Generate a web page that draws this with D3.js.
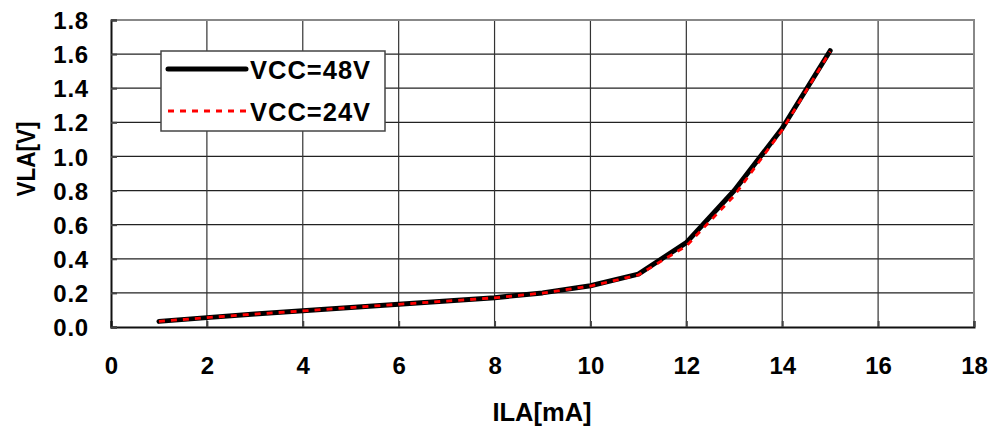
<!DOCTYPE html>
<html><head><meta charset="utf-8">
<script src="https://cdn.jsdelivr.net/npm/d3@7"></script>
<style>html,body{margin:0;padding:0;background:#fff;}text{font-family:"Liberation Sans",Arial,sans-serif;font-weight:bold;}</style>
</head><body>
<svg id="c" width="996" height="428"></svg>
<script>
const ila = [1,2,3,4,5,6,7,8,9,10,11,12,13,14,15];
const vcc48 = [0.033,0.055,0.076,0.095,0.115,0.134,0.153,0.172,0.200,0.242,0.310,0.495,0.800,1.165,1.620];
const vcc24 = [0.033,0.055,0.076,0.094,0.114,0.133,0.152,0.171,0.199,0.240,0.305,0.475,0.770,1.155,1.615];
const xTicks = [0,2,4,6,8,10,12,14,16,18];
const yTicks = [0,0.2,0.4,0.6,0.8,1.0,1.2,1.4,1.6,1.8];
const seriesNames = ["VCC=48V","VCC=24V"];

const svg = d3.select("#c");
const L=111,R=974,T=20,B=327;
const x = d3.scaleLinear().domain([0,18]).range([L,R]);
const y = d3.scaleLinear().domain([0,1.8]).range([B,T]);

// grid
svg.append("g").selectAll("line").data(yTicks.slice(1)).join("line")
  .attr("x1",L).attr("x2",R).attr("y1",d=>y(d)).attr("y2",d=>y(d))
  .attr("stroke","#222").attr("stroke-width",1.2);
svg.append("g").selectAll("line").data(xTicks.slice(1)).join("line")
  .attr("y1",T).attr("y2",B).attr("x1",d=>x(d)).attr("x2",d=>x(d))
  .attr("stroke","#333").attr("stroke-width",1.2);
// top & right border gray
svg.append("path").attr("d",`M${L},${T}H${R}V${B}`).attr("fill","none").attr("stroke","#888").attr("stroke-width",2);

// axes
const xAxis = svg.append("g").attr("transform",`translate(0,${B})`)
  .call(d3.axisBottom(x).tickValues(xTicks).tickSize(-6).tickPadding(30).tickFormat(d3.format("d")));
const yAxis = svg.append("g").attr("transform",`translate(${L},0)`)
  .call(d3.axisLeft(y).tickValues(yTicks).tickSize(-6).tickPadding(22).tickFormat(d3.format(".1f")));
[xAxis,yAxis].forEach(a=>{
  a.select(".domain").attr("stroke","#111").attr("stroke-width",2);
  a.selectAll(".tick line").attr("stroke","#444").attr("stroke-width",2);
  a.selectAll("text").attr("fill","#000").attr("font-size",24).attr("font-family","Liberation Sans, Arial, sans-serif").attr("font-weight","bold");
});
yAxis.selectAll("text").attr("dy","0.36em").attr("letter-spacing",0.8);

// lines
const line = d3.line().x((d,i)=>x(ila[i])).y(d=>y(d));
svg.append("path").datum(vcc48).attr("d",line).attr("fill","none")
  .attr("stroke","#000").attr("stroke-width",5).attr("stroke-linejoin","round").attr("stroke-linecap","round");
svg.append("path").datum(vcc24).attr("d",line).attr("fill","none")
  .attr("stroke","#ff0000").attr("stroke-width",2.8).attr("stroke-dasharray","6,6");

// legend
const lg = svg.append("g");
lg.append("rect").attr("x",161).attr("y",51).attr("width",224).attr("height",80)
  .attr("fill","#fff").attr("stroke","#444").attr("stroke-width",1.5);
lg.append("line").attr("x1",168).attr("x2",246).attr("y1",69).attr("y2",69)
  .attr("stroke","#000").attr("stroke-width",5).attr("stroke-linecap","round");
lg.append("line").attr("x1",168).attr("x2",246).attr("y1",111).attr("y2",111)
  .attr("stroke","#ff0000").attr("stroke-width",2.8).attr("stroke-dasharray","6,6");
lg.append("text").attr("x",250).attr("y",79).attr("font-size",25.5).attr("letter-spacing",1).text(seriesNames[0]);
lg.append("text").attr("x",250).attr("y",121).attr("font-size",25.5).attr("letter-spacing",1).text(seriesNames[1]);

// axis titles
svg.append("text").attr("x",542).attr("y",421).attr("text-anchor","middle").attr("font-size",25.5).text("ILA[mA]");
svg.append("text").attr("transform","translate(35,159) rotate(-90)").attr("text-anchor","middle").attr("font-size",25.5)
  .attr("textLength",75).attr("lengthAdjust","spacingAndGlyphs").text("VLA[V]");
</script>
</body></html>
